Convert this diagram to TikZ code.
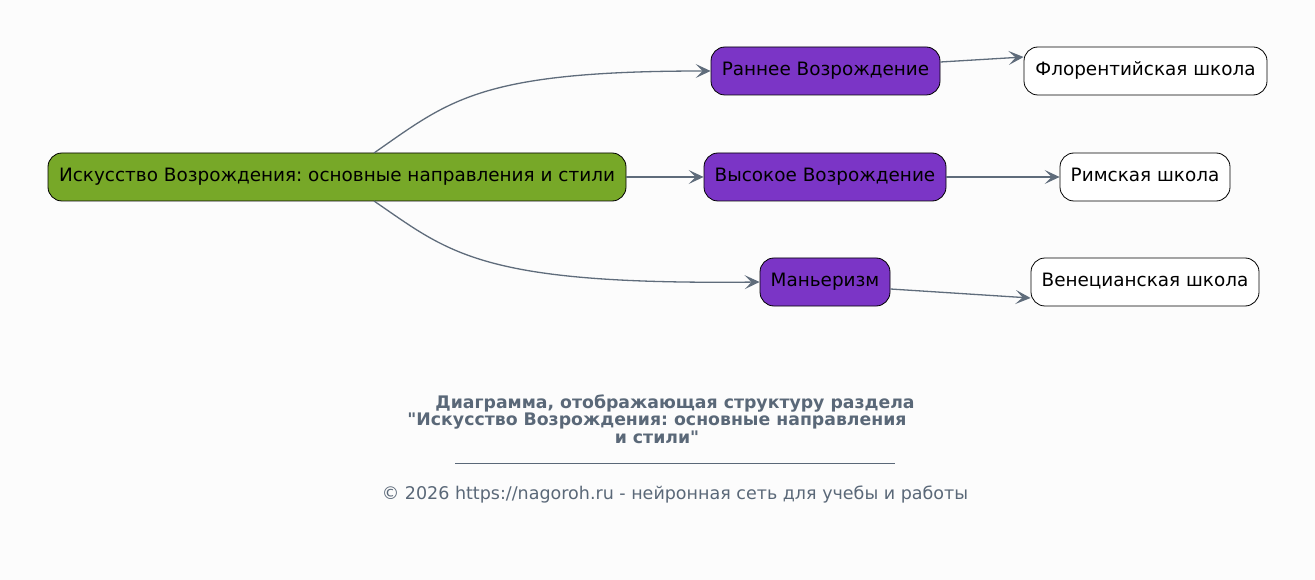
\documentclass[tikz,border=0pt]{standalone}
\usepackage{fontspec}
\setmainfont{DejaVu Sans}
\usetikzlibrary{arrows.meta}
\frenchspacing
\definecolor{bg}{HTML}{FCFCFC}
\definecolor{rootc}{HTML}{77A828}
\definecolor{purp}{HTML}{7B35C6}
\definecolor{edge}{HTML}{5F6C7B}
\definecolor{capc}{HTML}{5A6878}
\tikzset{
  box/.style={draw=black, line width=0.8pt, rounded corners=14pt, minimum height=48pt, inner sep=0pt, text height=13pt, text depth=3pt, font=\fontsize{18.4}{22}\selectfont, text=black},
  rootbox/.style={box, fill=rootc},
  midbox/.style={box, fill=purp},
  leafbox/.style={box, fill=white},
  conn/.style={draw=edge, line width=1.3pt, -{Stealth[length=15pt,width=14pt,inset=7pt]}},
}
\begin{document}
\begin{tikzpicture}[x=1pt,y=-1pt]
\fill[bg] (0,0) rectangle (1315,580);
\useasboundingbox (0,0) rectangle (1315,580);
\node[rootbox, minimum width=578pt] (root) at (337,177) {Искусство Возрождения: основные направления и стили};
\node[midbox, minimum width=229pt] (early) at (825.5,71) {Раннее Возрождение};
\node[midbox, minimum width=242pt] (high) at (825,177) {Высокое Возрождение};
\node[midbox, minimum width=130pt] (mann) at (825,282) {Маньеризм};
\node[leafbox, minimum width=243pt] (flor) at (1145.5,71) {Флорентийская школа};
\node[leafbox, minimum width=170pt] (rome) at (1145,177) {Римская школа};
\node[leafbox, minimum width=228pt] (ven) at (1145,282) {Венецианская школа};
\coordinate (rt) at (374,153);
\coordinate (rb) at (374,201);
\draw[conn] (rt) .. controls (450,100) and (480,71) .. (early.west);
\draw[conn] (rb) .. controls (450,253) and (480,285) .. (mann.west);
\draw[conn] (root.east) -- (high.west);
\draw[conn] (early.east |- 0,62) -- (flor.west |- 0,57);
\draw[conn] (high.east) -- (rome.west);
\draw[conn] (mann.east |- 0,289) -- (ven.west |- 0,298);
\node[font=\bfseries\fontsize{17.3}{17.5}\selectfont, text=capc, align=center] (cap) at (657,419) {\hspace*{36pt}Диаграмма, отображающая структуру раздела\\ \textquotedbl Искусство Возрождения: основные направления \\ и стили\textquotedbl};
\node[text=capc] (rule) at (675,463) {\rule{440pt}{0.8pt}};
\node[font=\fontsize{17.5}{20}\selectfont, text=capc] (copy) at (675,495) {© 2026 https://nagoroh.ru - нейронная сеть для учебы и работы};
\end{tikzpicture}
\end{document}
